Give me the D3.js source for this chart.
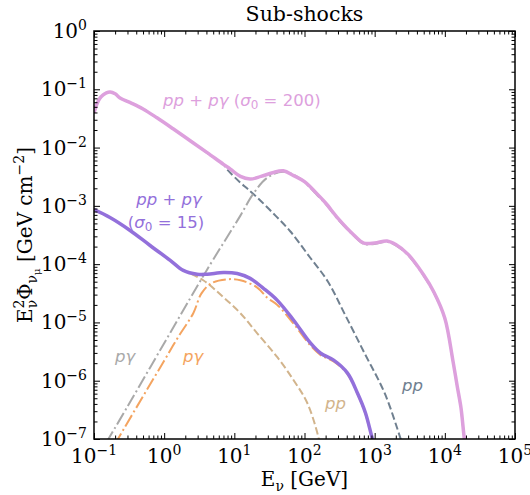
<!DOCTYPE html>
<html>
<head>
<meta charset="utf-8">
<script src="https://cdn.jsdelivr.net/npm/d3@7"></script>
<style>
body { margin: 0; background: #fff; }
svg { display: block; }
.serif { font-family: "DejaVu Serif", serif; font-size: 20px; fill: #000; }
.ann { font-family: "DejaVu Sans", sans-serif; font-size: 16.5px; }
.tick line { stroke: #000; }
</style>
</head>
<body>
<div id="chart"></div>
<script>
// pp + p gamma, sigma0 = 200 (pink)
var totE200 = [0.1, 0.11, 0.12, 0.135, 0.15, 0.17, 0.2, 0.235, 0.33, 0.5, 0.79, 1.34, 2.35, 4.1, 7, 8.8, 12.2, 16.8, 24, 35, 50, 70, 100, 150, 200, 300, 500, 700, 1000, 1500, 2000, 3000, 5000, 7000, 1e4, 1.3e4, 1.5e4, 1.7e4, 1.9e4, 2e4];
var totF200 = [3.95e-2, 5.6e-2, 6.9e-2, 8.0e-2, 8.7e-2, 9.0e-2, 8.35e-2, 7.1e-2, 5.9e-2, 4.6e-2, 3.24e-2, 2.1e-2, 1.31e-2, 8.2e-3, 5.15e-3, 4.27e-3, 3.2e-3, 2.88e-3, 3.2e-3, 3.7e-3, 4.0e-3, 3.3e-3, 2.6e-3, 1.62e-3, 1.12e-3, 6.1e-4, 3.2e-4, 2.3e-4, 2.3e-4, 2.5e-4, 2.17e-4, 1.47e-4, 6.5e-5, 3.3e-5, 1.18e-5, 2.25e-6, 8.1e-7, 3.4e-7, 1.0e-7, 7e-8];

// pp component, sigma0 = 200 (slate dashed)
var ppE200 = [0.1, 0.11, 0.12, 0.135, 0.15, 0.17, 0.2, 0.235, 0.33, 0.5, 0.79, 1.34, 2.35, 4.1, 7, 7.95, 12.2, 15.3, 21.2, 36, 63, 120, 214, 370, 718, 1390, 2350, 2700];
var ppF200 = [3.95e-2, 5.6e-2, 6.9e-2, 8.0e-2, 8.7e-2, 9.0e-2, 8.35e-2, 7.1e-2, 5.9e-2, 4.6e-2, 3.24e-2, 2.1e-2, 1.31e-2, 8.1e-3, 5.1e-3, 4.18e-3, 2.5e-3, 1.98e-3, 1.39e-3, 7.4e-4, 3.63e-4, 1.3e-4, 5.1e-5, 1.43e-5, 2.96e-6, 6.1e-7, 1.0e-7, 6e-8];

// p gamma component, sigma0 = 200 (gray dash-dot)
var pgE200 = [0.15, 0.3, 1, 3, 5, 10, 12.2, 18.7, 29.5, 50, 87, 120, 150, 200, 300, 500, 700, 1000, 1500, 2000, 3000, 5000, 7000, 1e4, 1.3e4, 1.5e4, 1.7e4, 1.9e4, 2e4];
var pgF200 = [8.7e-8, 3.6e-7, 4.4e-6, 4.3e-5, 1.2e-4, 4.6e-4, 6.8e-4, 1.62e-3, 3.05e-3, 3.86e-3, 2.93e-3, 2.06e-3, 1.55e-3, 1.08e-3, 5.9e-4, 3.1e-4, 2.22e-4, 2.22e-4, 2.42e-4, 2.1e-4, 1.42e-4, 6.3e-5, 3.2e-5, 1.15e-5, 2.2e-6, 7.9e-7, 3.3e-7, 9.7e-8, 6.8e-8];

// pp + p gamma, sigma0 = 15 (purple)
var totE15 = [0.1, 0.169, 0.327, 0.63, 1.22, 1.87, 2.95, 4.1, 7, 11, 16.8, 26, 41, 70, 122, 170, 260, 410, 570, 740, 930, 1030];
var totF15 = [8.6e-4, 6.3e-4, 3.78e-4, 2.09e-4, 1.16e-4, 7.8e-5, 6.7e-5, 6.7e-5, 7.2e-5, 6.9e-5, 5.7e-5, 3.84e-5, 2.39e-5, 1.09e-5, 4.4e-6, 2.96e-6, 2.25e-6, 1.35e-6, 6.1e-7, 2.8e-7, 1.0e-7, 7e-8];

// pp component, sigma0 = 15 (tan dashed)
var ppE15 = [0.1, 0.169, 0.327, 0.63, 1.22, 1.69, 3.6, 7, 12.2, 21.2, 41, 70, 110, 160, 170];
var ppF15 = [8.6e-4, 6.3e-4, 3.78e-4, 2.09e-4, 1.16e-4, 8.45e-5, 5.3e-5, 2.7e-5, 1.44e-5, 6.5e-6, 2.53e-6, 1.02e-6, 4.1e-7, 1.0e-7, 6e-8];

// p gamma component, sigma0 = 15 (orange dash-dot)
var pgE15 = [0.2, 0.22, 0.5, 1, 1.58, 2.6, 3.4, 4.7, 7.9, 12.2, 21, 30, 41, 70, 122, 170, 260, 410, 570, 740, 930, 1030];
var pgF15 = [8e-8, 1e-7, 5.4e-7, 2.2e-6, 5.6e-6, 1.44e-5, 3.15e-5, 4.7e-5, 5.5e-5, 5.3e-5, 4.0e-5, 2.6e-5, 2.0e-5, 9.5e-6, 4.0e-6, 2.75e-6, 2.15e-6, 1.3e-6, 5.9e-7, 2.7e-7, 9.7e-8, 6.8e-8];

var xExps = [-1, 0, 1, 2, 3, 4, 5];
var yExps = [-7, -6, -5, -4, -3, -2, -1, 0];

var margin = { top: 31, left: 94, bottom: 56, right: 15 };
var width = 530 - margin.left - margin.right;
var height = 495 - margin.top - margin.bottom;

var root = d3.select("#chart").append("svg")
    .attr("width", 530)
    .attr("height", 495);
var svg = root.append("g")
    .attr("transform", "translate(" + margin.left + "," + margin.top + ")");

var x = d3.scaleLog().domain([1e-1, 1e5]).range([0, width]);
var y = d3.scaleLog().domain([1e-7, 1e0]).range([height, 0]);

svg.append("clipPath").attr("id", "plotclip")
    .append("rect").attr("width", width).attr("height", height);

function zip(es, fs) {
    return es.map(function (e, i) { return [e, fs[i]]; });
}

var line = d3.line()
    .curve(d3.curveCatmullRom.alpha(0.5))
    .x(function (d) { return x(d[0]); })
    .y(function (d) { return y(d[1]); });

var curves = [
    { data: zip(ppE200, ppF200), color: "#708090", w: 2, dash: "7.4,3.2" },
    { data: zip(pgE200, pgF200), color: "#a9a9a9", w: 2, dash: "12.8,3.2,2,3.2" },
    { data: zip(ppE15, ppF15), color: "#d2b48c", w: 2, dash: "7.4,3.2" },
    { data: zip(pgE15, pgF15), color: "#f4a460", w: 2, dash: "12.8,3.2,2,3.2" },
    { data: zip(totE200, totF200), color: "#dda0dd", w: 3.5, dash: null },
    { data: zip(totE15, totF15), color: "#9370db", w: 3.5, dash: null }
];

var plot = svg.append("g").attr("clip-path", "url(#plotclip)");
plot.selectAll(".curve")
    .data(curves)
    .enter().append("path")
    .attr("class", "curve")
    .attr("d", function (d) { return line(d.data); })
    .attr("fill", "none")
    .attr("stroke", function (d) { return d.color; })
    .attr("stroke-width", function (d) { return d.w; })
    .attr("stroke-dasharray", function (d) { return d.dash; });

// ticks, all pointing inward
var xMajor = xExps.map(function (e) { return Math.pow(10, e); });
var yMajor = yExps.map(function (e) { return Math.pow(10, e); });
var xMinor = [], yMinor = [];
xExps.slice(0, -1).forEach(function (e) {
    for (var k = 2; k < 10; k++) xMinor.push(k * Math.pow(10, e));
});
yExps.slice(0, -1).forEach(function (e) {
    for (var k = 2; k < 10; k++) yMinor.push(k * Math.pow(10, e));
});

function ticks(axis, vals, size, transform) {
    svg.append("g")
        .attr("transform", transform)
        .call(axis.tickValues(vals).tickSize(size).tickSizeOuter(0).tickFormat(""))
        .call(function (g) { g.select(".domain").remove(); });
}
ticks(d3.axisBottom(x), xMajor, -6, "translate(0," + height + ")");
ticks(d3.axisBottom(x), xMinor, -3.5, "translate(0," + height + ")");
ticks(d3.axisTop(x), xMajor, -6, "translate(0,0)");
ticks(d3.axisTop(x), xMinor, -3.5, "translate(0,0)");
ticks(d3.axisLeft(y), yMajor, -6, "translate(0,0)");
ticks(d3.axisLeft(y), yMinor, -3.5, "translate(0,0)");
ticks(d3.axisRight(y), yMajor, -6, "translate(" + width + ",0)");
ticks(d3.axisRight(y), yMinor, -3.5, "translate(" + width + ",0)");

svg.append("rect")
    .attr("width", width)
    .attr("height", height)
    .attr("fill", "none")
    .attr("stroke", "#000")
    .attr("stroke-width", 1.5);

function expText(e) {
    return e < 0 ? "\u2212" + (-e) : String(e);
}
function powerLabel(sel) {
    sel.append("tspan").text("10");
    sel.append("tspan")
        .attr("dy", -8)
        .style("font-size", "14px")
        .text(function (d) { return expText(d); });
}

svg.selectAll(".xlab")
    .data(xExps)
    .enter().append("text")
    .attr("class", "xlab serif")
    .attr("x", function (d) { return x(Math.pow(10, d)); })
    .attr("y", height + 24)
    .attr("text-anchor", "middle")
    .call(powerLabel);

svg.selectAll(".ylab")
    .data(yExps)
    .enter().append("text")
    .attr("class", "ylab serif")
    .attr("x", -7)
    .attr("y", function (d) { return y(Math.pow(10, d)) + 7; })
    .attr("text-anchor", "end")
    .call(powerLabel);

// title
svg.append("text")
    .attr("class", "serif")
    .attr("x", width / 2)
    .attr("y", -10)
    .attr("text-anchor", "middle")
    .style("font-size", "20.5px")
    .text("Sub-shocks");

// x label
var xl = svg.append("text")
    .attr("class", "serif")
    .attr("x", width / 2)
    .attr("y", height + 47)
    .attr("text-anchor", "middle");
xl.append("tspan").text("E");
xl.append("tspan").attr("dy", 5).style("font-size", "14px").text("\u03bd");
xl.append("tspan").attr("dy", -5).text(" [GeV]");

// y label
var yl = root.append("text")
    .attr("class", "serif")
    .attr("transform", "translate(32," + (margin.top + height / 2) + ") rotate(-90)")
    .attr("text-anchor", "middle");
yl.append("tspan").text("E");
yl.append("tspan").attr("dy", -8).style("font-size", "14px").text("2");
yl.append("tspan").attr("dx", -8.9).attr("dy", 13).style("font-size", "14px").text("\u03bd");
yl.append("tspan").attr("dy", -5).text("\u03a6");
yl.append("tspan").attr("dy", 5).style("font-size", "14px").text("\u03bd");
yl.append("tspan").attr("dy", 3).style("font-size", "10px").text("\u03bc");
yl.append("tspan").attr("dy", -8).text(" [GeV cm");
yl.append("tspan").attr("dy", -8).style("font-size", "14px").text("\u22122");
yl.append("tspan").attr("dy", 8).text("]");

// annotations
function ann(px, py, color, parts, anchor) {
    var t = root.append("text")
        .attr("class", "ann")
        .attr("x", px)
        .attr("y", py)
        .attr("fill", color)
        .attr("text-anchor", anchor || "start");
    parts.forEach(function (p) {
        var s = t.append("tspan").text(p[0]);
        if (p[1] === "i") s.style("font-style", "italic");
        if (p[1] === "sub") s.style("font-size", "12px").attr("dy", 3);
        if (p[1] === "up") s.attr("dy", -3);
    });
}
var sum200 = [["pp", "i"], [" + ", ""], ["p\u03b3", "i"], [" (", ""], ["\u03c3", "i"], ["0", "sub"], [" = 200)", "up"]];
ann(163, 106, "#dda0dd", sum200);
ann(169, 205, "#9370db", [["pp", "i"], [" + ", ""], ["p\u03b3", "i"]], "middle");
ann(166, 228, "#9370db", [["(", ""], ["\u03c3", "i"], ["0", "sub"], [" = 15)", "up"]], "middle");
ann(115, 362, "#a9a9a9", [["p\u03b3", "i"]]);
ann(183, 362, "#f4a460", [["p\u03b3", "i"]]);
ann(325, 409, "#d2b48c", [["pp", "i"]]);
ann(402, 391, "#708090", [["pp", "i"]]);
</script>
</body>
</html>
